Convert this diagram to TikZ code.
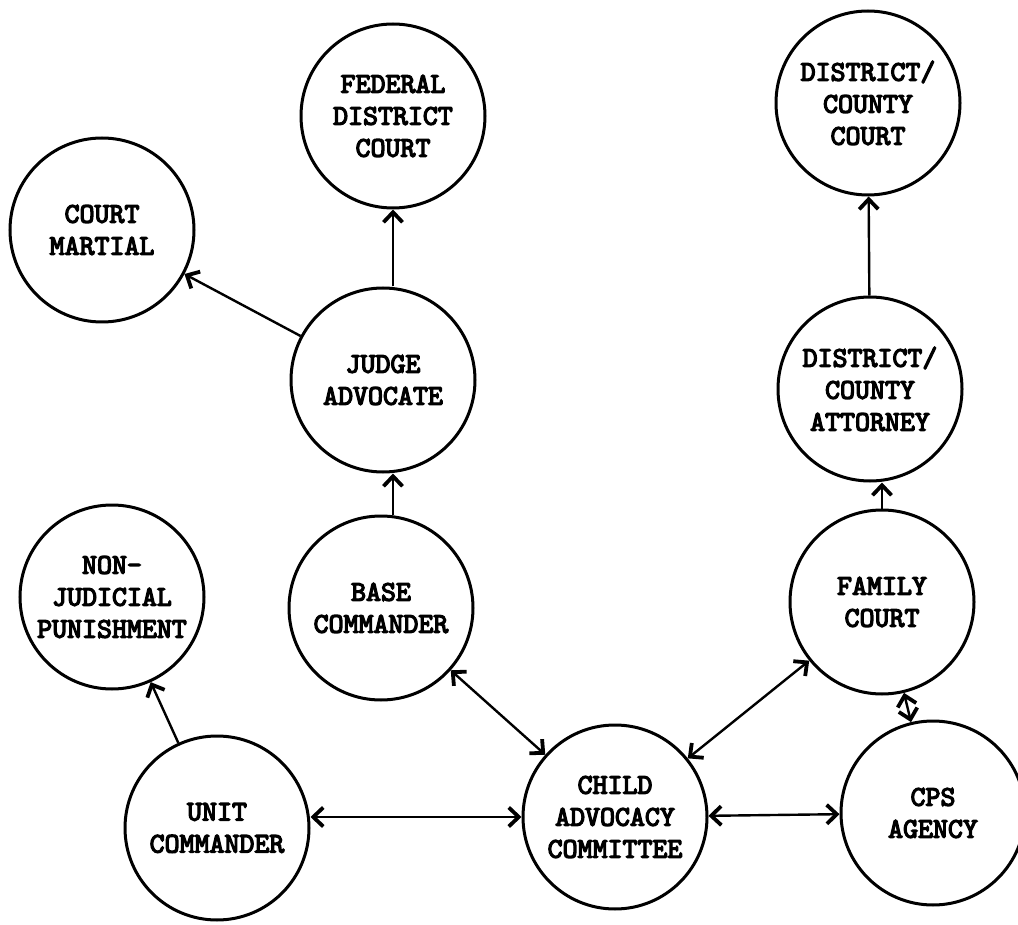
\documentclass[tikz,border=0pt]{standalone}
\usepackage{fontspec}
\newfontfamily\typew{lmmono10-regular}[Extension=.otf,FakeBold=4.5]
\usetikzlibrary{arrows.meta}
\begin{document}
\begin{tikzpicture}[x=1pt,y=-1pt,
  agency/.style={circle,draw,line width=3pt,minimum size=184pt,inner sep=0pt,align=center,
    font=\typew\fontsize{28.5}{32}\selectfont},
  tip/.tip={Straight Barb[length=10pt,width=19pt,line width=3.8pt]},
  link/.style={line width=2.4pt,-tip},
  both/.style={line width=2.4pt,tip-tip}]
\fill[white] (0,0) rectangle (1018,925);
\useasboundingbox (0,0) rectangle (1018,925);

\node[agency] (fed) at (393,116) {FEDERAL\\DISTRICT\\COURT};
\node[agency] (dcc) at (868,103) {DISTRICT/\\COUNTY\\COURT};
\node[agency] (cm)  at (102,230) {COURT\\MARTIAL};
\node[agency] (ja)  at (383,380) {JUDGE\\ADVOCATE};
\node[agency] (dca) at (870,389) {DISTRICT/\\COUNTY\\ATTORNEY};
\node[agency] (njp) at (112,597) {NON-\\JUDICIAL\\PUNISHMENT};
\node[agency] (bc)  at (381,608) {BASE\\COMMANDER};
\node[agency] (fc)  at (882,602) {FAMILY\\COURT};
\node[agency] (uc)  at (217,828) {UNIT\\COMMANDER};
\node[agency] (cac) at (615,817) {CHILD\\ADVOCACY\\COMMITTEE};
\node[agency] (cps) at (933,813) {CPS\\AGENCY};

\draw[link] (ja.north -| fed.south) -- (fed.south);
\draw[link] (ja) -- (cm);
\draw[link] (bc.north -| fed.south) -- (ja.south -| fed.south);
\draw[link] (uc) -- (njp);
\draw[link] (fc.north) -- (dca.south -| fc.north);
\draw[link] (dca) -- (dcc);

\draw[both] (bc) -- (cac);
\draw[both] (uc.east |- cac.west) -- (cac.west);
\draw[both] (cac) -- (cps);
\draw[both] (cac) -- (fc);
\draw[both] (fc) -- (cps);
\end{tikzpicture}
\end{document}
